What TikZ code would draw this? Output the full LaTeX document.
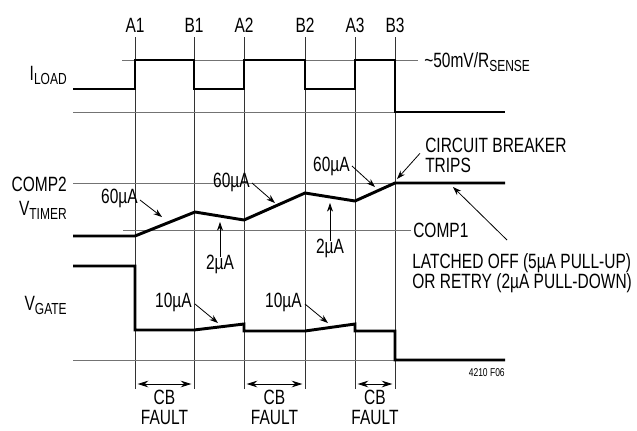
\documentclass[tikz,border=0pt]{standalone}
\usepackage{fontspec}
\setmainfont{Liberation Sans}[FakeStretch=0.75]
\usetikzlibrary{arrows.meta}
\newcommand\lsub[1]{\raisebox{-0.4ex}{\fontsize{12pt}{12pt}\selectfont #1}}
\begin{document}
\begin{tikzpicture}[x=0.75pt,y=-0.75pt,
  font=\fontsize{15.5pt}{17pt}\selectfont,
  sig/.style={line width=2.2pt,line join=miter},
  gridline/.style={line width=0.6pt,black!55},
  vline/.style={line width=0.6pt,black!80},
  lbl/.style={inner sep=0pt},
  ann/.style={line width=0.6pt,-{Stealth[length=6.5pt,width=4.5pt]}},
  span/.style={line width=0.6pt,{Stealth[length=8pt,width=5pt]}-{Stealth[length=8pt,width=5pt]}}]
\useasboundingbox (0,0) rectangle (637,430);
% time markers
\foreach \n/\x in {A1/135,B1/194,A2/244,B2/305,A3/355,B3/395}{
  \node[lbl,anchor=base] (\n) at (\x,32) {\n};
  \draw[vline] (\x,37) -- (\x,389);
}
% reference lines
\draw[gridline] (122,60) -- (418,60);
\draw[gridline] (73,112) -- (395,112);
\draw[gridline] (73,183) -- (395,183);
\draw[gridline] (123,230) -- (411,230);
\draw[gridline] (73,360) -- (395,360);
% signals
\draw[sig] (73,89) -| (135,60) -| (194,89) -| (244,60) -| (305,89) -| (355,60) -| (395,112) -- (505,112);
\draw[sig] (73,236) -- (135,236) -- (195,212) -- (244,220) -- (305,193) -- (355,201) -- (395,183) -- (505,183);
\draw[sig] (73,266) -- (135,266) -- (135,330) -- (194,330) -- (244,324) -- (244,331) -- (305,331) -- (355,324) -- (355,331) -- (395,331) -- (395,360) -- (505,360);
% left labels
\node[lbl,anchor=base east] (iload) at (67,80) {I\lsub{LOAD}};
\node[lbl,anchor=base east] (comp2) at (67,191) {COMP2};
\node[lbl,anchor=base east] (vtimer) at (67,215) {V\lsub{TIMER}};
\node[lbl,anchor=base east] (vgate) at (67,310) {V\lsub{GATE}};
% right labels
\node[lbl,anchor=base west] (rsense) at (424,67) {\textasciitilde 50mV/R\lsub{SENSE}};
\node[lbl,anchor=base west] (cbt) at (425,152) {CIRCUIT BREAKER};
\node[lbl,anchor=base west] (trips) at (425,172) {TRIPS};
\node[lbl,anchor=base west] (comp1) at (413,237) {COMP1};
\node[lbl,anchor=base west] (latch) at (412,268) {LATCHED OFF (5µA PULL-UP)};
\node[lbl,anchor=base west] (retry) at (412,288) {OR RETRY (2µA PULL-DOWN)};
\node[lbl,anchor=base east,font=\fontsize{8.5pt}{9pt}\selectfont] (fig) at (505,376) {4210 F06};
% current annotations
\node[lbl,anchor=base east] (i60a) at (138,203) {60µA};
\node[lbl,anchor=base east] (i60b) at (250,187) {60µA};
\node[lbl,anchor=base east] (i60c) at (350,171) {60µA};
\node[lbl,anchor=base] (i2a) at (220,269) {2µA};
\node[lbl,anchor=base] (i2b) at (330,253) {2µA};
\node[lbl,anchor=base east] (i10a) at (192,307) {10µA};
\node[lbl,anchor=base east] (i10b) at (302,307) {10µA};
\coordinate (t60a) at (162,217);
\coordinate (t60b) at (275,203);
\coordinate (t60c) at (375,187);
\coordinate (t2a) at (220,222);
\coordinate (t2b) at (330,203);
\coordinate (t10a) at (218,323);
\coordinate (t10b) at (328,323);
\coordinate (ttrip) at (397,179);
\coordinate (tlatch) at (453,187);
\coordinate (slatch) at (507,240);
\draw[ann] ([shift={(2,-3)}]i60a.base east) -- (t60a);
\draw[ann] ([shift={(2,-4)}]i60b.base east) -- (t60b);
\draw[ann] ([shift={(2,-5)}]i60c.base east) -- (t60c);
\draw[ann] ([yshift=-2]i2a.north) -- (t2a);
\draw[ann] ([yshift=-2]i2b.north) -- (t2b);
\draw[ann] ([shift={(3,-3)}]i10a.base east) -- (t10a);
\draw[ann] ([shift={(3,-3)}]i10b.base east) -- (t10b);
\draw[ann] ([shift={(-5,-4)}]trips.north west) -- (ttrip);
\draw[ann] (slatch) -- (tlatch);
% CB FAULT spans
\foreach \a/\b/\k in {A1/B1/1,A2/B2/2,A3/B3/3}{
  \draw[span] ([xshift=2]\a |- 0,384) -- ([xshift=-2]\b |- 0,384);
  \path (\a |- 0,390) -- (\b |- 0,390) node[midway,lbl,anchor=north,align=center,
    font=\fontsize{15.5pt}{14.5pt}\selectfont] (cb\k) {CB\\FAULT};
}
\end{tikzpicture}
\end{document}
